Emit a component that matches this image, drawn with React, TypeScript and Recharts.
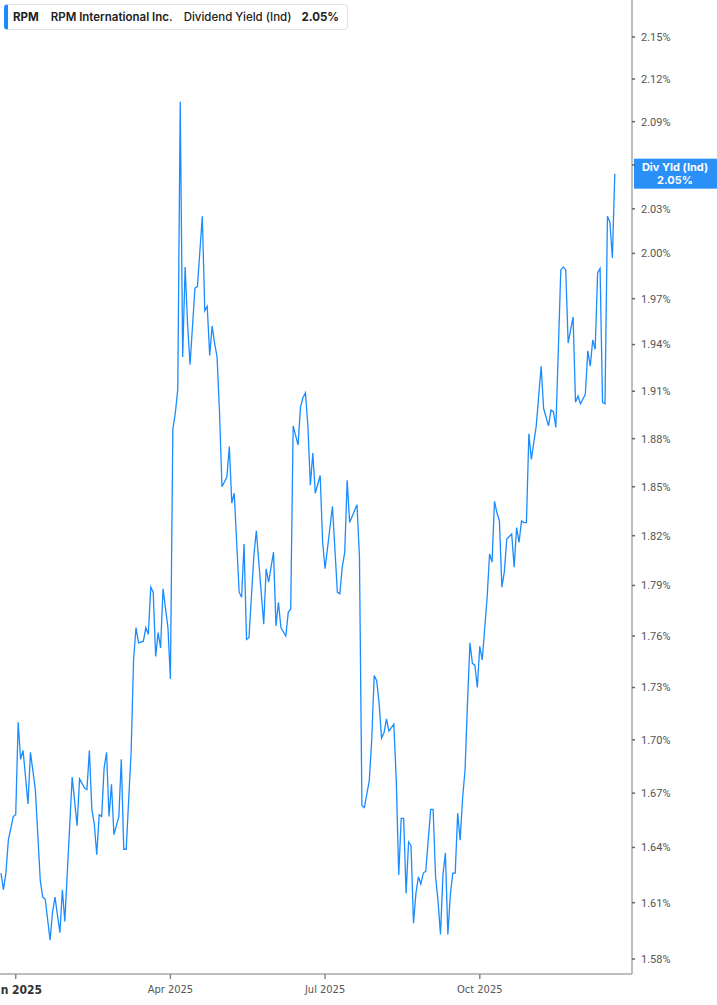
import { LineChart, Line, XAxis, YAxis, ReferenceLine } from 'recharts'

// trading-session index (0 = first session shown) and dividend yield in %
const sessions = [
  0, 1, 2, 3, 5, 6, 7, 8, 9, 11,
  12, 14, 16, 17, 18, 20, 21, 22, 24, 25,
  26, 29, 31, 32, 34, 35, 36, 37, 38, 39,
  40, 41, 42, 43, 44, 45, 46, 48, 49, 50,
  51, 52, 53, 54, 55, 56, 58, 59, 60, 61,
  62, 63, 64, 65, 66, 68, 69, 70, 71, 72,
  73, 74, 75, 76, 77, 79, 80, 82, 83, 84,
  85, 86, 87, 88, 89, 90, 92, 93, 94, 95,
  97, 98, 99, 100, 101, 103, 104, 107, 108, 109,
  111, 112, 113, 114, 116, 117, 118, 119, 121, 122,
  123, 124, 125, 126, 127, 128, 130, 131, 132, 135,
  137, 138, 139, 140, 141, 142, 145, 146, 147, 148,
  150, 151, 152, 153, 154, 155, 156, 157, 158, 160,
  161, 162, 163, 164, 165, 166, 167, 168, 169, 170,
  171, 172, 173, 175, 176, 177, 178, 179, 180, 181,
  182, 183, 184, 185, 186, 187, 188, 189, 190, 191,
  192, 193, 194, 195, 196, 198, 199, 200, 201, 202,
  203, 204, 205, 206, 208, 209, 210, 211, 212, 213,
  214, 215, 216, 218, 220, 221, 223, 224, 225, 226,
  227, 228, 229, 230, 231, 233, 234, 235, 236, 238,
  239, 240, 241, 242, 243, 244, 245, 246, 247, 248,
  249, 250,
]

const yields = [
  1.626, 1.617, 1.626, 1.644, 1.657, 1.658, 1.71, 1.689, 1.694, 1.664,
  1.693, 1.672, 1.622, 1.613, 1.612, 1.59, 1.605, 1.613, 1.594, 1.617,
  1.6, 1.679, 1.652, 1.678, 1.673, 1.672, 1.694, 1.661, 1.653, 1.636,
  1.658, 1.657, 1.684, 1.693, 1.657, 1.675, 1.647, 1.657, 1.689, 1.639,
  1.639, 1.666, 1.693, 1.746, 1.765, 1.756, 1.757, 1.765, 1.761, 1.789,
  1.786, 1.748, 1.762, 1.753, 1.788, 1.765, 1.735, 1.886, 1.896, 1.911,
  2.104, 1.932, 1.991, 1.953, 1.927, 1.977, 1.978, 2.025, 1.962, 1.965,
  1.933, 1.952, 1.941, 1.932, 1.897, 1.85, 1.856, 1.875, 1.84, 1.846,
  1.786, 1.783, 1.815, 1.758, 1.759, 1.808, 1.823, 1.767, 1.8, 1.792,
  1.81, 1.766, 1.78, 1.765, 1.76, 1.774, 1.776, 1.888, 1.876, 1.9,
  1.906, 1.909, 1.888, 1.851, 1.871, 1.846, 1.857, 1.816, 1.8, 1.838,
  1.786, 1.785, 1.801, 1.81, 1.854, 1.828, 1.839, 1.807, 1.663, 1.662,
  1.677, 1.7, 1.737, 1.734, 1.721, 1.701, 1.704, 1.712, 1.705, 1.709,
  1.677, 1.625, 1.656, 1.656, 1.615, 1.643, 1.641, 1.599, 1.615, 1.624,
  1.62, 1.626, 1.627, 1.661, 1.661, 1.624, 1.611, 1.593, 1.625, 1.637,
  1.593, 1.614, 1.626, 1.626, 1.659, 1.644, 1.667, 1.683, 1.721, 1.756,
  1.744, 1.743, 1.73, 1.754, 1.746, 1.783, 1.809, 1.804, 1.841, 1.834,
  1.829, 1.789, 1.798, 1.818, 1.821, 1.801, 1.825, 1.816, 1.829, 1.828,
  1.828, 1.883, 1.867, 1.888, 1.926, 1.899, 1.888, 1.898, 1.897, 1.887,
  1.937, 1.989, 1.991, 1.989, 1.941, 1.958, 1.903, 1.907, 1.902, 1.908,
  1.936, 1.926, 1.943, 1.937, 1.987, 1.99, 1.903, 1.902, 2.025, 2.021,
  1.997, 2.054,
]

const yTicks = [
  1.58, 1.61, 1.64, 1.67, 1.7, 1.73, 1.76, 1.79, 1.82, 1.85,
  1.88, 1.91, 1.94, 1.97, 2.0, 2.03, 2.06, 2.09, 2.12, 2.15,
]
const xTickSessions = [6, 69, 132, 195]
const xTickLabels = ['Jan 2025', 'Apr 2025', 'Jul 2025', 'Oct 2025']

const ticker = 'RPM'
const company = 'RPM International Inc.'
const metric = 'Dividend Yield (Ind)'
const badgeTitle = 'Div Yld (Ind)'

const BLUE = '#1a8cff'
const AXIS = '#a8a8a8'

const data = sessions.map((s, i) => ({ s, v: yields[i] }))
const last = yields[yields.length - 1]

function XTick({ x, y, payload }: any) {
  const i = xTickSessions.indexOf(payload.value)
  const first = i === 0
  return (
    <text
      x={x}
      y={y}
      dy="0.71em"
      textAnchor="middle"
      fontSize={first ? 12 : 11}
      fontWeight={first ? 700 : 400}
      fill={first ? '#333' : '#555'}
      fontFamily="'Liberation Sans Narrow', 'DejaVu Sans Condensed', Roboto, sans-serif"
    >
      {xTickLabels[i]}
    </text>
  )
}

// the value badge hides the tick label that sits behind it
function YTick({ x, y, payload }: any) {
  if (Math.abs(payload.value - last) < 0.015) return <g />
  return (
    <text x={x} y={y} dy="0.355em" textAnchor="start" fill="#555" fontSize={11}
      fontFamily="Roboto, sans-serif">
      {payload.value.toFixed(2) + '%'}
    </text>
  )
}

function Badge({ viewBox }: any) {
  const x = viewBox.x + viewBox.width + 2
  const cy = viewBox.y
  return (
    <g>
      <rect x={x} y={cy - 15} width={90} height={30} fill="#2a8ff7" />
      <text x={x + 41} y={cy - 3} textAnchor="middle" fill="#fff" fontSize={11} fontWeight={700}
        fontFamily="Inter, sans-serif">
        {badgeTitle}
      </text>
      <text x={x + 41} y={cy + 10} textAnchor="middle" fill="#fff" fontSize={11} fontWeight={700}
        fontFamily="Inter, sans-serif">
        {last.toFixed(2) + '%'}
      </text>
    </g>
  )
}

export default function App() {
  return (
    <div style={{ position: 'absolute', left: 0, top: 0, width: 717, height: 1005, background: '#fff' }}>
      <LineChart width={717} height={1005} data={data} margin={{ top: 0, right: 0, bottom: 0, left: 0 }}>
        <XAxis
          dataKey="s"
          type="number"
          domain={[-0.4, 257]}
          ticks={xTickSessions}
          tick={<XTick />}
          tickSize={5}
          tickMargin={6}
          height={31}
          stroke={AXIS}
          strokeWidth={1.5}
          tickLine={{ stroke: '#888' }}
          allowDataOverflow
        />
        <YAxis
          orientation="right"
          scale="log"
          type="number"
          domain={[1.5721, 2.1767]}
          allowDataOverflow
          ticks={yTicks}
          interval={0}
          width={85}
          tickSize={3}
          tickMargin={6}
          stroke={AXIS}
          strokeWidth={1.5}
          tickLine={{ stroke: '#666' }}
          tick={<YTick />}
        />
        <Line
          type="linear"
          dataKey="v"
          stroke={BLUE}
          strokeWidth={1.3}
          dot={false}
          activeDot={false}
          isAnimationActive={false}
        />
        <ReferenceLine y={last} stroke="none" label={<Badge />} />
      </LineChart>
      <div
        style={{
          position: 'absolute',
          left: 4,
          top: 4,
          width: 344,
          height: 26,
          boxSizing: 'border-box',
          border: '1px solid #e4e4e4',
          borderLeft: '4px solid ' + BLUE,
          borderRadius: 4,
          background: '#fff',
          display: 'flex',
          alignItems: 'center',
          paddingLeft: 5,
          fontFamily: 'Inter, sans-serif',
          fontSize: 11.5,
          color: '#222',
          whiteSpace: 'nowrap',
        }}
      >
        <span style={{ fontWeight: 700, marginRight: 12 }}>{ticker}</span>
        <span style={{ fontWeight: 600, marginRight: 11 }}>{company}</span>
        <span style={{ fontWeight: 500, marginRight: 10 }}>{metric}</span>
        <span style={{ fontWeight: 700 }}>{last.toFixed(2) + '%'}</span>
      </div>
    </div>
  )
}
